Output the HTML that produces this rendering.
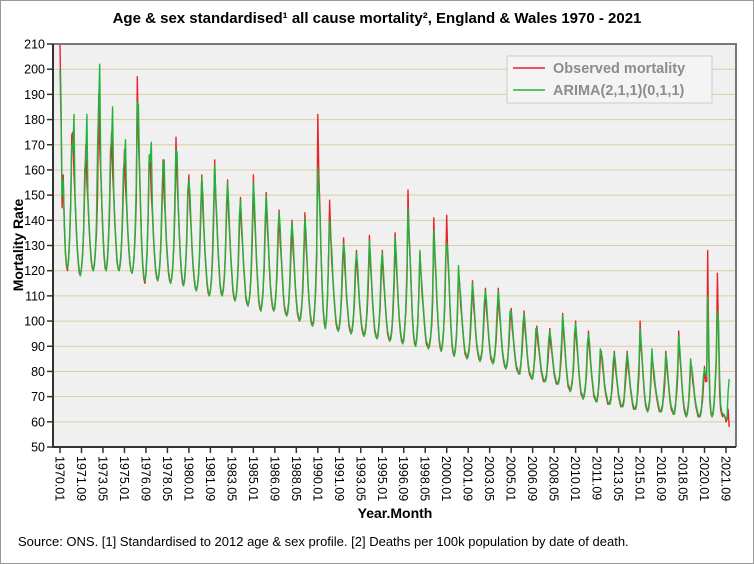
<!DOCTYPE html>
<html><head><meta charset="utf-8"><style>
body{margin:0;background:#fff}
svg{display:block;font-family:"Liberation Sans",sans-serif}
</style></head><body>
<svg id="c" width="754" height="564">
<rect x="0.5" y="0.5" width="753" height="563" fill="#fff" stroke="#999"/>
<text x="377" y="23" text-anchor="middle" font-size="15" font-weight="bold">Age &amp; sex standardised¹ all cause mortality², England &amp; Wales 1970 - 2021</text>
<rect x="53" y="44" width="683" height="403" fill="#f0f0f0"/>
<g id="grid"></g>
<g id="series"></g>
<path d="M53 44H736V447" fill="none" stroke="#777" stroke-width="2"/>
<path d="M53 44V447H736" fill="none" stroke="#333" stroke-width="2"/>
<g id="yt"></g><g id="xt"></g>
<text transform="translate(23,245) rotate(-90)" text-anchor="middle" font-size="14" font-weight="bold">Mortality Rate</text>
<text x="395" y="518" text-anchor="middle" font-size="14" font-weight="bold">Year.Month</text>
<text x="18" y="546" font-size="13">Source: ONS. [1] Standardised to 2012 age &amp; sex profile. [2] Deaths per 100k population by date of death.</text>
<g>
<rect x="507" y="56" width="205" height="47" fill="#f4f4f4" stroke="#ccc"/>
<line x1="513" y1="68" x2="545" y2="68" stroke="#e8232a" stroke-width="1.5"/>
<text x="553" y="73" font-size="14.5" font-weight="bold" fill="#8c8c8c">Observed mortality</text>
<line x1="513" y1="90" x2="545" y2="90" stroke="#22b33c" stroke-width="1.5"/>
<text x="553" y="95" font-size="14.5" font-weight="bold" fill="#8c8c8c">ARIMA(2,1,1)(0,1,1)</text>
</g>
</svg>
<script>
const yTicks=[50,60,70,80,90,100,110,120,130,140,150,160,170,180,190,200,210];
const xTickLabels=["1970.01","1971.09","1973.05","1975.01","1976.09","1978.05","1980.01","1981.09","1983.05","1985.01","1986.09","1988.05","1990.01","1991.09","1993.05","1995.01","1996.09","1998.05","2000.01","2001.09","2003.05","2005.01","2006.09","2008.05","2010.01","2011.09","2013.05","2015.01","2016.09","2018.05","2020.01","2021.09"];
const observed=[
210,183,145,158,138,127,122,120,125,134,147,174,
175,158,149,138,129,123,119,118,121,127,135,152,
170,155,148,138,130,124,121,120,123,128,135,150,
190,169,159,145,134,126,121,120,124,131,141,162,
175,159,150,139,131,124,121,120,123,128,137,153,
168,153,146,136,129,123,120,119,121,126,134,148,
197,172,160,144,131,122,117,115,119,127,140,164,
165,150,143,133,126,120,117,116,118,123,131,145,
164,149,142,132,125,119,116,115,117,122,130,144,
173,155,146,135,126,119,115,114,117,123,132,149,
158,144,137,128,121,116,113,112,114,119,126,140,
158,144,136,127,120,114,111,110,112,117,124,139,
164,148,140,129,121,114,111,110,113,118,126,142,
156,142,134,125,118,112,109,108,110,115,122,137,
149,136,130,121,115,109,107,106,108,112,119,132,
158,142,134,123,115,108,105,104,107,112,120,136,
151,137,130,120,113,108,105,104,106,111,118,132,
144,131,125,117,110,105,103,102,104,108,115,127,
140,128,122,114,108,103,101,100,102,106,112,124,
143,130,123,114,107,102,99,98,100,105,112,125,
182,157,144,127,114,104,99,97,101,110,123,148,
135,123,117,110,104,99,97,96,98,102,108,119,
133,122,116,108,103,98,96,95,97,101,106,118,
128,118,113,106,101,97,95,94,96,99,104,114,
134,122,116,107,101,96,94,93,95,99,105,118,
128,117,112,105,99,95,93,92,94,97,103,114,
135,122,115,106,100,95,92,91,93,98,104,117,
152,133,124,112,102,95,91,90,93,99,109,127,
120,111,106,100,95,91,90,89,91,94,98,108,
141,125,117,107,99,92,89,88,91,96,104,120,
142,125,117,106,97,90,87,86,89,94,103,120,
115,106,102,96,91,87,86,85,87,90,94,103,
116,106,102,95,90,87,85,84,86,89,94,103,
113,104,100,94,89,85,84,83,85,88,92,101,
113,103,99,92,87,84,82,81,83,86,91,100,
105,97,93,88,84,81,80,79,80,83,87,95,
104,96,92,86,82,79,78,77,78,81,85,93,
98,91,88,84,80,78,76,76,77,79,83,89,
97,90,87,83,79,77,75,75,76,78,82,88,
103,94,89,83,78,74,73,72,74,77,81,91,
100,91,86,80,75,71,70,69,71,74,78,88,
96,88,83,78,74,70,69,68,69,72,76,85,
88,82,79,74,71,69,67,67,68,70,73,80,
88,81,78,74,70,68,66,66,67,69,73,79,
88,81,78,73,70,67,65,65,66,68,72,79,
100,89,84,77,71,67,65,64,66,69,75,86,
83,77,74,71,68,66,64,64,65,67,70,75,
88,81,77,72,68,65,64,63,64,67,71,78,
96,86,81,74,69,65,63,62,64,67,72,82,
82,76,73,69,66,64,62,62,63,65,68,74,
82,76,76,128,85,68,63,62,64,68,75,84,
119,96,72,65,63,62,63,62,60,61,65,58];
const arima=[
200,178,150,156,140,128,123,121,124,133,146,170,
168,182,150,139,130,124,120,118,121,126,136,160,
165,182,150,139,131,125,121,120,122,127,140,170,
186,202,160,146,135,127,122,120,123,130,145,168,
172,185,152,140,132,125,121,120,122,127,140,160,
164,172,148,137,130,124,120,119,121,125,137,155,
187,186,162,145,132,123,118,116,118,126,142,166,
163,171,145,134,127,121,118,116,118,122,133,150,
162,164,143,133,126,120,117,115,117,121,132,150,
168,167,147,136,127,120,116,114,116,122,135,152,
156,150,138,129,122,117,114,112,114,118,128,145,
157,150,137,128,121,115,112,110,112,116,127,145,
162,150,141,130,122,115,112,110,112,117,128,146,
155,147,135,126,119,113,110,108,110,114,125,142,
148,140,131,122,116,110,108,106,108,111,121,138,
155,148,135,124,116,109,106,104,106,111,123,140,
150,142,131,121,114,109,106,104,105,110,121,137,
143,137,126,118,111,106,104,102,103,107,117,133,
139,133,123,115,109,104,102,100,101,105,115,128,
141,135,124,115,108,103,100,98,99,104,115,130,
161,152,142,128,115,105,100,97,100,109,125,140,
133,128,118,111,105,100,98,96,97,101,111,124,
131,127,117,109,104,99,97,95,96,100,109,122,
127,122,114,107,102,98,96,94,95,98,107,119,
132,126,117,108,102,97,95,93,94,98,108,122,
127,121,113,106,100,96,94,92,93,96,106,118,
133,127,116,107,101,96,93,91,92,97,107,122,
145,135,125,113,103,96,92,90,92,98,111,128,
119,114,107,101,96,92,91,89,90,93,101,112,
136,128,118,108,100,93,90,88,90,95,107,124,
131,128,118,107,98,91,88,86,88,93,106,122,
114,110,103,97,92,88,87,85,86,89,97,107,
115,110,103,96,91,88,86,84,85,88,97,107,
112,108,101,95,90,86,85,83,84,87,95,105,
112,107,100,93,88,85,83,81,82,85,94,104,
104,100,94,89,85,82,81,79,79,82,90,99,
103,99,93,87,83,80,79,77,77,80,88,97,
97,94,89,85,81,79,77,76,76,78,86,93,
96,93,88,84,80,78,76,75,75,77,85,92,
102,97,90,84,79,75,74,72,73,76,84,95,
99,94,87,81,76,72,71,69,70,73,81,91,
95,91,84,79,75,71,70,68,68,71,79,89,
87,85,80,75,72,70,68,67,67,69,76,84,
87,84,79,75,71,69,67,66,66,68,76,83,
87,84,79,74,71,68,66,65,65,67,75,83,
97,92,85,78,72,68,66,64,65,68,78,89,
82,80,75,72,69,67,65,64,64,66,73,79,
87,84,78,73,69,66,65,63,63,66,74,82,
94,89,82,75,70,66,64,62,63,66,75,85,
81,79,74,70,67,65,63,62,62,64,71,78,
81,79,78,110,90,70,64,62,63,67,77,86,
104,100,78,67,64,63,63,62,61,62,72,77];
const NS='http://www.w3.org/2000/svg';
const X0=60,DX=(726-60)/620,Y0=447,YMIN=50,YMAX=210,Y1=44;
function xs(i){return X0+DX*i}
function ys(v){return Y0-(v-YMIN)/(YMAX-YMIN)*(Y0-Y1)}
function mk(tag,attrs,parent){const e=document.createElementNS(NS,tag);for(const k in attrs)e.setAttribute(k,attrs[k]);parent.appendChild(e);return e}
const grid=document.getElementById('grid'),yt=document.getElementById('yt'),xt=document.getElementById('xt'),ser=document.getElementById('series');
yTicks.forEach(v=>{
  if(v>YMIN&&v<YMAX){const g=mk('line',{x1:53,x2:736,y1:ys(v),y2:ys(v),stroke:'#d8cf9e','stroke-width':1},grid);
  
  }
  const t=mk('line',{x1:47,x2:53,y1:ys(v),y2:ys(v),stroke:'#333','stroke-width':1.5},yt);
  
  
  const l=mk('text',{x:45,y:ys(v)+4.5,'text-anchor':'end','font-size':12.5},yt);l.textContent=v;
  
  
});
xTickLabels.forEach((s,k)=>{
  const x=xs(k*20);
  const t=mk('line',{x1:x,x2:x,y1:447,y2:453,stroke:'#333','stroke-width':1.5},xt);
  
  
  const l=mk('text',{transform:'translate('+(x-4.5)+',456) rotate(90)','font-size':12.5},xt);l.textContent=s;
  
  
});
function line(arr,col,name){
  const p=mk('polyline',{points:arr.map((v,i)=>xs(i).toFixed(1)+','+ys(v).toFixed(1)).join(' '),fill:'none',stroke:col,'stroke-width':1.4,'stroke-linejoin':'round'},ser);
  
  
}
line(observed,'#e8232a','observed-mortality-line');
line(arima,'#22b33c','arima-line');
</script>
</body></html>
